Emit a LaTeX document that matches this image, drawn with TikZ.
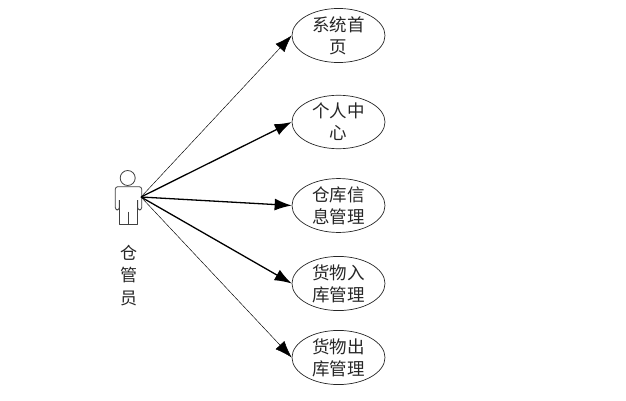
\documentclass[tikz,border=0pt]{standalone}
\usepackage{fontspec}
\setmainfont{Noto Sans CJK SC}
\usetikzlibrary{shapes.geometric,arrows.meta}
\tikzset{
  usecase/.style={draw=black!85,ellipse,line width=0.7pt,inner sep=0pt,minimum width=93pt,
    align=center,font=\fontsize{17.5}{22}\selectfont,text=black!85},
  thinlink/.style={line width=0.45pt,-{Latex[length=17pt,width=12pt]}},
  thicklink/.style={line width=1.3pt,-{Latex[length=17pt,width=12pt]}},
  actorline/.style={draw=black!75,line width=0.8pt,line join=round}
}
\begin{document}
\begin{tikzpicture}[x=1pt,y=-1pt]
\useasboundingbox (0,0) rectangle (626,401);
\node[usecase,minimum height=53pt] (a) at (338.5,35.5) {系统首\\页};
\node[usecase,minimum height=48pt] (b) at (338.5,122) {个人中\\心};
\node[usecase,minimum height=47pt] (c) at (338.5,205.5) {仓库信\\息管理};
\node[usecase,minimum height=53pt] (d) at (338.5,283.5) {货物入\\库管理};
\node[usecase,minimum height=47pt] (e) at (338.5,357.5) {货物出\\库管理};
\node[circle,actorline,draw,minimum size=15pt,inner sep=0pt] (head) at (127.7,178) {};
\coordinate (hand) at (141,197);
\draw[actorline,rounded corners=2.5pt] (119.3,200) -- (119.3,210) -- (115.3,210) -- (115.3,186.7) -- (141.7,186.7) -- (141.7,210) -- (137.7,210) -- (137.7,200);
\draw[actorline] (119.3,200) -- (119.3,224) -- (137.7,224) -- (137.7,200);
\draw[actorline] (128.3,211.7) -- (128.3,224);
\node[align=center,inner sep=0pt,font=\fontsize{17}{22.5}\selectfont,text=black!85] (label) at (128.5,275.5) {仓\\管\\员};
\draw[thinlink] (hand) -- (a.west);
\draw[thicklink] (hand) -- (b.west);
\draw[thicklink] (hand) -- (c.west);
\draw[thicklink] (hand) -- (d.west);
\draw[thinlink] (hand) -- (e.west);
\end{tikzpicture}
\end{document}
